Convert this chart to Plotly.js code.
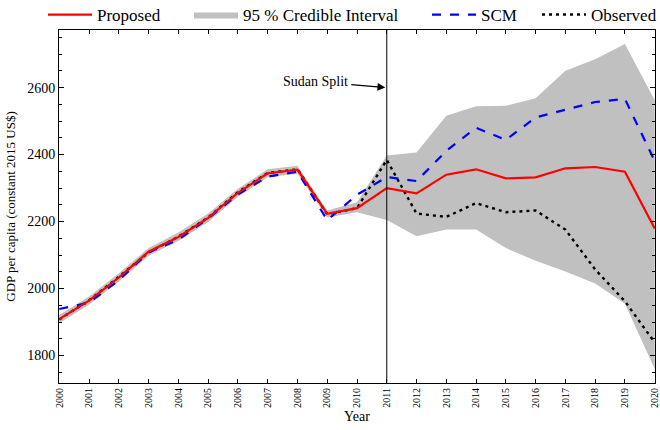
<!DOCTYPE html>
<html>
<head>
<meta charset="utf-8">
<script src="https://cdn.plot.ly/plotly-3.0.1.min.js"></script>
<style>html,body{margin:0;padding:0;background:#fff;}#chart{width:660px;height:430px;}</style>
</head>
<body>
<div id="chart"></div>
<script>
const years = [2000,2001,2002,2003,2004,2005,2006,2007,2008,2009,2010,2011,2012,2013,2014,2015,2016,2017,2018,2019,2020];
const proposed = [1909,1964,2033,2110,2154,2211,2286,2344,2355,2223,2240,2300,2284,2340,2356,2329,2332,2359,2363,2349,2179];
const scm      = [1939,1958,2025,2108,2146,2209,2281,2334,2349,2204,2280,2333,2321,2411,2480,2444,2511,2534,2557,2566,2381];
const observed = [1908,1965,2035,2108,2155,2212,2288,2345,2356,2222,2240,2384,2224,2214,2255,2228,2233,2176,2057,1962,1839];
const ciUpper  = [1921,1976,2046,2121,2167,2224,2298,2356,2367,2233,2258,2397,2406,2516,2544,2546,2568,2650,2685,2730,2562];
const ciLower  = [1897,1952,2021,2098,2142,2199,2274,2332,2343,2212,2228,2205,2156,2176,2176,2121,2083,2051,2015,1955,1760];
const tickYears = years.map(String);
const splitYear = 2011;
const splitLabel = "Sudan Split";

const FONT = "Liberation Serif, Times New Roman, serif";

const traces = [
  {
    x: years.concat(years.slice().reverse()),
    y: ciUpper.concat(ciLower.slice().reverse()),
    type: "scatter", mode: "lines", fill: "toself",
    fillcolor: "#c0c0c0", line: {width: 0, color: "#c0c0c0"},
    name: "95 % Credible Interval", legend: "legend2", hoverinfo: "skip"
  },
  {
    x: years, y: observed, type: "scatter", mode: "lines",
    line: {color: "#000000", width: 2.4, dash: "3px,4px"},
    name: "Observed", legend: "legend4"
  },
  {
    x: years, y: scm, type: "scatter", mode: "lines",
    line: {color: "#0000ff", width: 2.2, dash: "dash"},
    name: "SCM", legend: "legend3"
  },
  {
    x: years, y: proposed, type: "scatter", mode: "lines",
    line: {color: "#ff0000", width: 2.2},
    name: "Proposed", legend: "legend"
  }
];

function leg(xpx) {
  return {
    orientation: "h", x: (xpx - 59) / 596, xanchor: "left",
    y: 1 - 3 / 353, yanchor: "bottom", bgcolor: "rgba(0,0,0,0)", itemwidth: 44,
    font: {family: FONT, size: 17, color: "#000"}, borderwidth: 0
  };
}

const layout = {
  width: 660, height: 430,
  margin: {l: 59, r: 5, t: 30, b: 47, autoexpand: false},
  paper_bgcolor: "#fff", plot_bgcolor: "#fff",
  font: {family: FONT, size: 14, color: "#000"},
  showlegend: true,
  legend: leg(43), legend2: leg(189), legend3: leg(427), legend4: leg(537),
  xaxis: {
    range: [1999.99, 2020.01], tickmode: "array", tickvals: years, ticktext: tickYears,
    tickangle: -90, tickfont: {family: FONT, size: 10, color: "#000"},
    ticks: "inside", ticklen: 4, tickcolor: "#000", mirror: "allticks",
    showline: true, linecolor: "#000", linewidth: 1, showgrid: false, zeroline: false,
    title: {text: "Year", font: {family: FONT, size: 14}, standoff: 4}
  },
  yaxis: {
    range: [1718, 2772], tickvals: [1800, 2000, 2200, 2400, 2600],
    tickfont: {family: FONT, size: 14, color: "#000"},
    ticks: "inside", ticklen: 5, tickcolor: "#000", mirror: "allticks",
    minor: {dtick: 50, ticks: "inside", ticklen: 3, tickcolor: "#000", showgrid: false},
    showline: true, linecolor: "#000", linewidth: 1, showgrid: false, zeroline: false,
    title: {text: "GDP per capita (constant 2015 US$)", font: {family: FONT, size: 13}, standoff: 8}
  },
  shapes: [{
    type: "line", xref: "x", yref: "paper", x0: splitYear, x1: splitYear, y0: 0, y1: 1,
    line: {color: "#000", width: 1}
  }],
  annotations: [{
    x: splitYear - 0.05, y: 2600, xref: "x", yref: "y",
    text: splitLabel, showarrow: true, arrowhead: 2, arrowsize: 1.2, arrowwidth: 1.3,
    arrowcolor: "#000", ax: -70, ay: -6, axref: "pixel", ayref: "pixel",
    font: {family: FONT, size: 14, color: "#000"}, standoff: 0, startstandoff: 2
  }]
};

Plotly.newPlot("chart", traces, layout, {displayModeBar: false, staticPlot: true});
</script>
</body>
</html>
